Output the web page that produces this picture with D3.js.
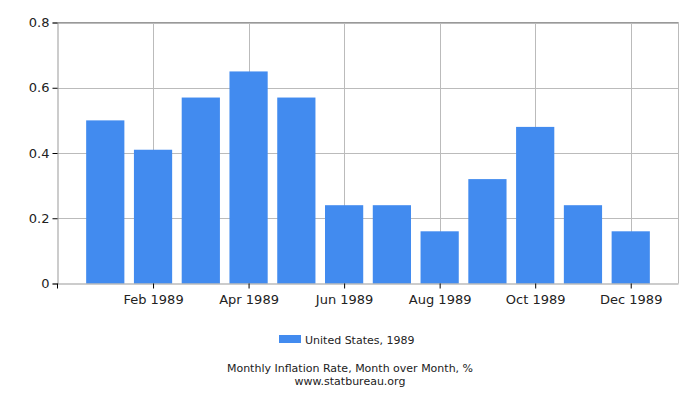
<!DOCTYPE html>
<html>
<head>
<meta charset="utf-8">
<script src="https://cdn.jsdelivr.net/npm/d3@7"></script>
<style>
  body { margin: 0; background: #fff; }
  text { font-family: "DejaVu Sans", Verdana, sans-serif; fill: #222; }
</style>
</head>
<body>
<svg id="chart" width="700" height="400"></svg>
<script>
// monthly inflation, us 1989
const months = ["Jan 1989", "Feb 1989", "Mar 1989", "Apr 1989", "May 1989", "Jun 1989",
                "Jul 1989", "Aug 1989", "Sep 1989", "Oct 1989", "Nov 1989", "Dec 1989"];
const values = [0.50, 0.41, 0.57, 0.65, 0.57, 0.24, 0.24, 0.16, 0.32, 0.48, 0.24, 0.16];
const yTicks = [0, 0.2, 0.4, 0.6, 0.8];
const seriesName = "United States, 1989";
const title = "Monthly Inflation Rate, Month over Month, %";
const source = "www.statbureau.org";

const padL = 57.5, padR = 678.5, padT = 22.5, padB = 283.5;
const svg = d3.select("#chart");

// slot 0 is empty, months sit on 1..12
const x = d3.scaleLinear().domain([0, 13]).range([padL, padR]);
const y = d3.scaleLinear().domain([0, 0.8]).range([padB, padT]);
const step = x(1) - x(0);
const barW = step * 0.8;

// grid
const tickIdx = [2, 4, 6, 8, 10, 12];
svg.append("g").selectAll("line").data(tickIdx).enter().append("line")
  .attr("x1", d => Math.round(x(d)) + 0.5).attr("x2", d => Math.round(x(d)) + 0.5)
  .attr("y1", padT).attr("y2", padB)
  .attr("stroke", "#bbb");
svg.append("g").selectAll("line").data(yTicks.slice(1)).enter().append("line")
  .attr("x1", padL).attr("x2", padR)
  .attr("y1", d => Math.round(y(d)) + 0.5).attr("y2", d => Math.round(y(d)) + 0.5)
  .attr("stroke", "#bbb");
svg.append("line").attr("x1", padR).attr("x2", padR).attr("y1", padT).attr("y2", padB).attr("stroke", "#bbb");
svg.append("line").attr("x1", padL).attr("x2", padR).attr("y1", padT).attr("y2", padT).attr("stroke", "#999");

// bars
svg.append("g").selectAll("rect").data(values).enter().append("rect")
  .attr("x", (d, i) => x(i + 1) - barW / 2)
  .attr("width", barW)
  .attr("y", d => y(d))
  .attr("height", d => padB - y(d))
  .attr("fill", "#428bef");

// axes
const yAxis = d3.axisLeft(y).tickValues(yTicks).tickSize(5).tickPadding(3)
  .tickFormat(d => d === 0 ? "0" : d3.format(".1f")(d));
const gy = svg.append("g").attr("transform", `translate(${padL},0)`).call(yAxis);
gy.select(".domain").attr("stroke", "#999");
gy.selectAll(".tick line").attr("stroke", "#000");
gy.selectAll("text").attr("font-size", 13).attr("font-family", "DejaVu Sans").attr("fill", "#222");

const xAxis = d3.axisBottom(x).tickValues(tickIdx).tickSize(5).tickPadding(6)
  .tickFormat(d => months[d - 1]);
const gx = svg.append("g").attr("transform", `translate(0,${padB})`).call(xAxis);
gx.select(".domain").attr("stroke", "#999").attr("d", `M${padL},0.5H${padR}`);
gx.selectAll(".tick line").attr("stroke", "#000");
gx.selectAll("text").attr("font-size", 13).attr("font-family", "DejaVu Sans").attr("fill", "#222");
// extra tick at axis origin
svg.append("line").attr("x1", padL).attr("x2", padL).attr("y1", padB).attr("y2", padB + 5).attr("stroke", "#000");

// legend
svg.append("rect").attr("x", 279).attr("y", 335).attr("width", 22).attr("height", 8).attr("fill", "#428bef");
svg.append("text").attr("x", 305).attr("y", 344).attr("font-size", 11).text(seriesName);

// title + source
svg.append("text").attr("x", 350).attr("y", 372).attr("text-anchor", "middle").attr("font-size", 11).text(title);
svg.append("text").attr("x", 350).attr("y", 385).attr("text-anchor", "middle").attr("font-size", 11).text(source);
</script>
</body>
</html>
